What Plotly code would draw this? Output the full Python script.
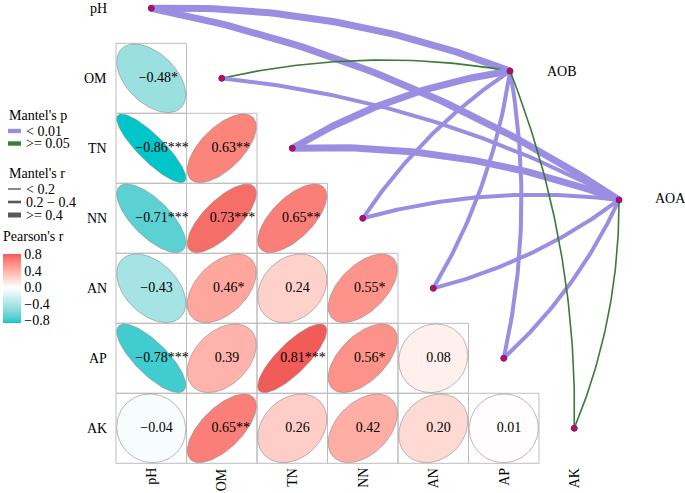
import numpy as np
import plotly.graph_objects as go
from plotly.colors import sample_colorscale

# ---------------- data ----------------
variables = ["pH", "OM", "TN", "NN", "AN", "AP", "AK"]

# lower-triangle Pearson's r (row i, columns 0..i-1)
corr_rows = [
    [],
    [-0.48],
    [-0.86, 0.63],
    [-0.71, 0.73, 0.65],
    [-0.43, 0.46, 0.24, 0.55],
    [-0.78, 0.39, 0.81, 0.56, 0.08],
    [-0.04, 0.65, 0.26, 0.42, 0.20, 0.01],
]
corr_sig = [
    [],
    ["*"],
    ["***", "**"],
    ["***", "***", "**"],
    ["", "*", "", "*"],
    ["***", "", "***", "*", ""],
    ["", "**", "", "", "", ""],
]

# Mantel test links
mantel_env = ["pH", "pH", "OM", "OM", "TN", "TN", "NN", "NN",
              "AN", "AN", "AP", "AP", "AK", "AK"]
mantel_spec = ["AOB", "AOA"] * 7
mantel_p = ["< 0.01", "< 0.01", ">= 0.05", "< 0.01", "< 0.01", "< 0.01",
            "< 0.01", "< 0.01", "< 0.01", "< 0.01", "< 0.01", "< 0.01",
            ">= 0.05", ">= 0.05"]
mantel_r = [">= 0.4", ">= 0.4", "< 0.2", "0.2 - 0.4", ">= 0.4", ">= 0.4",
            "0.2 - 0.4", "0.2 - 0.4", "0.2 - 0.4", "0.2 - 0.4",
            "0.2 - 0.4", "0.2 - 0.4", "< 0.2", "< 0.2"]

p_levels = ["< 0.01", ">= 0.05"]
r_levels = ["< 0.2", "0.2 - 0.4", ">= 0.4"]
colorbar_ticks = [-0.8, -0.4, 0.0, 0.4, 0.8]

# ---------------- styles ----------------
FONT = "Liberation Serif"
p_colors = {"< 0.01": "#9B8DE2", ">= 0.05": "#3A7A3A"}
r_widths = {"< 0.2": 1.6, "0.2 - 0.4": 4.0, ">= 0.4": 7.0}
spec_pos = {"AOB": (5.089, 0.896), "AOA": (6.635, 2.738)}  # (col, row)
LOW, MID, HIGH = "#00C6CA", "#FFFFFF", "#EE5050"

# pixel mapping of the index coordinates (for geometry only)
CX, CY = 70.5, 70.0
X0P, Y0P = 151.25, 8.3
W, H = 685, 493


def to_px(x, y):
    return X0P + CX * x, Y0P + CY * y


def from_px(px, py):
    return (px - X0P) / CX, (py - Y0P) / CY


# ---- Lab interpolation (like R scales) ----
def hex_to_rgb(h):
    h = h.lstrip("#")
    return [int(h[i:i + 2], 16) / 255 for i in (0, 2, 4)]


def rgb_to_lab(rgb):
    c = np.array([((v + 0.055) / 1.055) ** 2.4 if v > 0.04045 else v / 12.92 for v in rgb])
    M = np.array([[0.4124, 0.3576, 0.1805], [0.2126, 0.7152, 0.0722], [0.0193, 0.1192, 0.9505]])
    xyz = M @ c / np.array([0.95047, 1.0, 1.08883])
    f = np.where(xyz > 0.008856, np.cbrt(xyz), 7.787 * xyz + 16 / 116)
    return np.array([116 * f[1] - 16, 500 * (f[0] - f[1]), 200 * (f[1] - f[2])])


def lab_to_rgb(lab):
    L, a, b = lab
    fy = (L + 16) / 116
    fx = fy + a / 500
    fz = fy - b / 200
    f = np.array([fx, fy, fz])
    xyz = np.where(f ** 3 > 0.008856, f ** 3, (f - 16 / 116) / 7.787) * np.array([0.95047, 1.0, 1.08883])
    Mi = np.array([[3.2406, -1.5372, -0.4986], [-0.9689, 1.8758, 0.0415], [0.0557, -0.2040, 1.0570]])
    c = Mi @ xyz
    c = np.where(c > 0.0031308, 1.055 * np.clip(c, 0, None) ** (1 / 2.4) - 0.055, 12.92 * c)
    c = np.clip(c, 0, 1)
    return "rgb(%d,%d,%d)" % tuple(np.round(c * 255).astype(int))


lab_low, lab_mid, lab_high = (rgb_to_lab(hex_to_rgb(c)) for c in (LOW, MID, HIGH))
all_vals = [v for row in corr_rows for v in row]
cmin, cmax = min(all_vals), max(all_vals)
amax = max(abs(cmin), abs(cmax))
stops = sorted(set(list(np.linspace(cmin, cmax, 41)) + [0.0]))
colorscale = []
for v in stops:
    t = v / amax
    lab = lab_mid + (lab_low - lab_mid) * (-t) if t < 0 else lab_mid + (lab_high - lab_mid) * t
    colorscale.append([(v - cmin) / (cmax - cmin), lab_to_rgb(lab)])
colorscale[0][0] = 0.0
colorscale[-1][0] = 1.0

fig = go.Figure()
shapes = []
annotations = []

# ---------------- cells & ellipses ----------------
tt = np.linspace(0, 2 * np.pi, 120)
cell_x, cell_y, cell_v, txt_x, cell_txt = [], [], [], [], []
for i, row in enumerate(corr_rows):
    for j, r in enumerate(row):
        shapes.append(dict(type="rect", x0=j - 0.5, x1=j + 0.5, y0=i - 0.5, y1=i + 0.5,
                           line=dict(color="#BDBDBD", width=1), layer="below"))
        d = np.arccos(r)
        ex = 0.49 * np.cos(tt + d / 2)
        ey = 0.49 * np.cos(tt - d / 2)
        col = sample_colorscale(colorscale, [(r - cmin) / (cmax - cmin)])[0]
        fig.add_trace(go.Scatter(x=j + ex, y=i - ey, mode="lines", fill="toself",
                                 fillcolor=col, line=dict(color="#8A8A8A", width=0.6),
                                 hoverinfo="skip", showlegend=False))
        lab = ("%.2f" % r).replace("-", "\u2212") + corr_sig[i][j]
        cell_x.append(j)
        cell_y.append(i)
        cell_v.append(r)
        # label sits slightly right of the cell centre (as in the reference)
        txt_x.append(j + (5.3 + 1.8 * len(corr_sig[i][j])) / CX)
        cell_txt.append(lab)

fig.add_trace(go.Scatter(x=txt_x, y=cell_y, mode="text", text=cell_txt,
                         textfont=dict(family=FONT, size=14, color="black"),
                         hoverinfo="skip", showlegend=False))

# colour bar carrier
fig.add_trace(go.Scatter(
    x=cell_x, y=cell_y, mode="markers", hoverinfo="skip", showlegend=False,
    marker=dict(size=1, opacity=0, color=cell_v, colorscale=colorscale, cmin=cmin, cmax=cmax,
                showscale=True,
                colorbar=dict(thickness=18, thicknessmode="pixels", len=69, lenmode="pixels",
                              x=3 / W, xanchor="left", y=1 - 288.5 / H, yanchor="middle",
                              xpad=0, ypad=0, outlinewidth=0, ticks="",
                              tickvals=colorbar_ticks,
                              ticktext=[("%.1f" % v).replace("-", "\u2212") for v in colorbar_ticks],
                              tickfont=dict(family=FONT, size=14, color="black")))))

# ---------------- Mantel links ----------------
for env, spec, p, r in zip(mantel_env, mantel_spec, mantel_p, mantel_r):
    k = variables.index(env)
    sx, sy = to_px(k, k)
    tx, ty = to_px(*spec_pos[spec])
    dx, dy = tx - sx, ty - sy
    L = np.hypot(dx, dy)
    sign = 1 if k < 4 else -1
    nx, ny = sign * dy / L, sign * (-dx) / L
    cx_, cy_ = (sx + tx) / 2 + 0.1 * L * nx, (sy + ty) / 2 + 0.1 * L * ny
    s = np.linspace(0, 1, 60)
    bx = (1 - s) ** 2 * sx + 2 * (1 - s) * s * cx_ + s ** 2 * tx
    by = (1 - s) ** 2 * sy + 2 * (1 - s) * s * cy_ + s ** 2 * ty
    xs, ys = from_px(bx, by)
    fig.add_trace(go.Scatter(x=xs, y=ys, mode="lines",
                             line=dict(color=p_colors[p], width=r_widths[r]),
                             hoverinfo="skip", showlegend=False))

# nodes
node_x = list(range(len(variables))) + [spec_pos[s][0] for s in ["AOB", "AOA"]]
node_y = list(range(len(variables))) + [spec_pos[s][1] for s in ["AOB", "AOA"]]
fig.add_trace(go.Scatter(x=node_x, y=node_y, mode="markers",
                         marker=dict(size=6, color="#E8002A", line=dict(color="#3030C8", width=1)),
                         hoverinfo="skip", showlegend=False))

# ---------------- labels ----------------
lx, _ = from_px(109, 0)
_, bot_y = from_px(0, 466)
for i, v in enumerate(variables):
    annotations.append(dict(x=lx, y=i, text=v, showarrow=False, xanchor="right", yanchor="middle",
                            font=dict(family=FONT, size=14, color="black")))
    annotations.append(dict(x=i, y=bot_y, text=v, showarrow=False, textangle=-90,
                            xanchor="center", yanchor="top",
                            font=dict(family=FONT, size=14, color="black")))
for s, (ox, oy) in zip(["AOB", "AOA"], [(545, 71), (653, 198)]):
    ax_, ay_ = from_px(ox, oy)
    annotations.append(dict(x=ax_, y=ay_, text=s, showarrow=False, xanchor="left", yanchor="middle",
                            font=dict(family=FONT, size=14, color="black")))


# ---------------- custom legends ----------------
def ann_px(px, py, text, size=14):
    x, y = from_px(px, py)
    annotations.append(dict(x=x, y=y, text=text, showarrow=False, xanchor="left", yanchor="middle",
                            font=dict(family=FONT, size=size, color="black")))


def rect_px(x0, y0, x1, y1, color):
    a0, b0 = from_px(x0, y0)
    a1, b1 = from_px(x1, y1)
    shapes.append(dict(type="rect", x0=a0, x1=a1, y0=b0, y1=b1, fillcolor=color,
                       line=dict(width=0), layer="above"))


ann_px(7, 115, "Mantel's p")
for k, lev in enumerate(p_levels):
    yc = 131 + 12.5 * k
    rect_px(8, yc - 2.2, 21, yc + 2.2, p_colors[lev])
    ann_px(24, yc, lev.replace(">=", "&gt;=").replace("<", "&lt;"))

ann_px(7, 173, "Mantel's r")
for k, lev in enumerate(r_levels):
    yc = 189 + 13 * k
    hh = [0.7, 1.3, 2.5][k]
    rect_px(8, yc - hh, 21, yc + hh, "#595959")
    ann_px(24, yc, lev.replace("-", "\u2212").replace(">=", "&gt;=").replace("<", "&lt;"))

ann_px(1, 236, "Pearson's r")

x_lo, _ = from_px(0, 0)
x_hi, _ = from_px(W, 0)
_, y_top = from_px(0, 0)
_, y_bot = from_px(0, H)

fig.update_layout(
    width=W, height=H,
    margin=dict(l=0, r=0, t=0, b=0, pad=0),
    paper_bgcolor="white", plot_bgcolor="white",
    xaxis=dict(range=[x_lo, x_hi], visible=False, fixedrange=True),
    yaxis=dict(range=[y_bot, y_top], visible=False, fixedrange=True),
    shapes=shapes, annotations=annotations, showlegend=False,
)

fig.write_html("out.html", config={"displayModeBar": False},
               post_script="document.body.style.margin='0px';document.body.style.overflow='hidden';")
